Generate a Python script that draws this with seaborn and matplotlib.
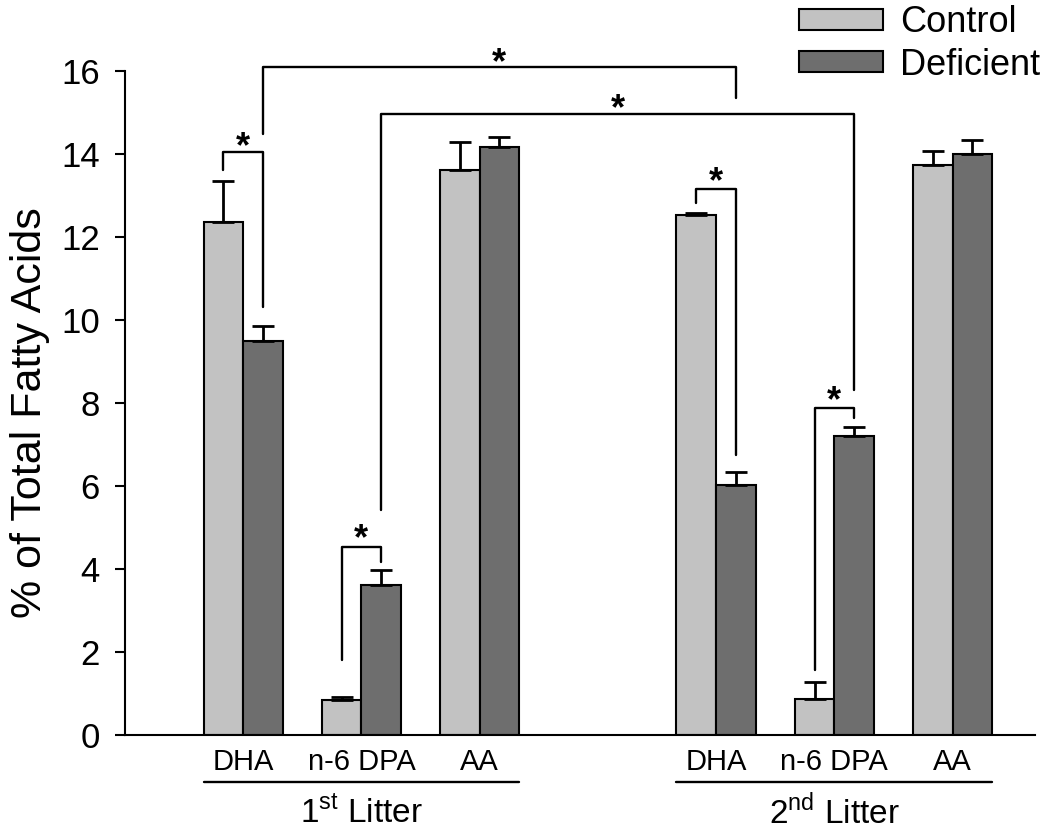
import numpy as np
import pandas as pd
import matplotlib
matplotlib.use('Agg')
import matplotlib.pyplot as plt
import matplotlib.transforms as mtransforms
import seaborn as sns

# data
fatty_acids = ['DHA', 'n-6 DPA', 'AA']
litters = ['1st', '2nd']
control_mean = [12.35, 0.85, 13.61, 12.52, 0.87, 13.72]
control_err = [1.0, 0.07, 0.67, 0.05, 0.41, 0.34]
deficient_mean = [9.48, 3.61, 14.17, 6.02, 7.2, 14.0]
deficient_err = [0.38, 0.37, 0.24, 0.32, 0.22, 0.34]

keys = [f'{fa}|{lt}' for lt in litters for fa in fatty_acids]
order = keys[:3] + ['gap'] + keys[3:]

df = pd.DataFrame({
    'key': keys * 2,
    'diet': ['Control'] * 6 + ['Deficient'] * 6,
    'value': control_mean + deficient_mean,
})

sns.set_style('ticks', {'axes.edgecolor': 'black', 'text.color': 'black',
                        'axes.labelcolor': 'black', 'xtick.color': 'black',
                        'ytick.color': 'black'})
plt.rcParams['font.family'] = ['Liberation Sans', 'DejaVu Sans']
plt.rcParams['mathtext.fontset'] = 'custom'
plt.rcParams['mathtext.rm'] = 'Liberation Sans'

fig, ax = plt.subplots(figsize=(10.5, 8.33), dpi=100)
fig.subplots_adjust(left=0.119, right=0.986, bottom=0.1176, top=0.915)

sns.barplot(data=df, x='key', y='value', hue='diet', order=order,
            hue_order=['Control', 'Deficient'],
            palette={'Control': '#c2c2c2', 'Deficient': '#6e6e6e'},
            width=0.67, saturation=1, edgecolor='black', linewidth=1.5,
            errorbar=None, legend=False, ax=ax)

# upward error bars
centers = []
for cont, err in zip(ax.containers, [control_err, deficient_err]):
    xs = [b.get_x() + b.get_width() / 2 for b in cont]
    hs = [b.get_height() for b in cont]
    centers.append(xs)
    ax.errorbar(xs, hs, yerr=[np.zeros(len(err)), err], fmt='none',
                ecolor='black', elinewidth=2, capsize=8, capthick=2, zorder=3)

# significance brackets: (group, hue) left, left leg bottom, (group, hue) right, right leg bottom, top, star y
brackets = [
    ((0, 0), 13.6, (0, 1), 10.3, 14.05, 14.42),
    ((0, 1), 14.48, (3, 1), 15.35, 16.1, 16.45),
    ((1, 0), 1.8, (1, 1), 4.17, 4.53, 4.98),
    ((1, 1), 5.42, (4, 1), 8.31, 14.96, 15.32),
    ((3, 0), 12.82, (3, 1), 6.75, 13.16, 13.58),
    ((4, 0), 1.57, (4, 1), 7.64, 7.88, 8.3),
]
star_fs = 26
for (gl, hl), yl, (gr, hr), yr, top, star_y in brackets:
    xl = centers[hl][gl]
    xr = centers[hr][gr]
    ax.plot([xl, xl, xr, xr], [yl, top, top, yr], color='black', lw=1.7,
            clip_on=False, zorder=4)
    ax.annotate('*', xy=((xl + xr) / 2, star_y), xytext=(0, -0.57 * star_fs),
                textcoords='offset points', ha='center', va='baseline',
                fontsize=star_fs, fontweight='bold', annotation_clip=False)

ax.set_ylim(0, 16)
ax.set_yticks(range(0, 17, 2))
ax.set_xlim(-1.0, 6.7)
ax.set_xticks(range(len(order)))
ax.set_xticklabels([k.split('|')[0] if k != 'gap' else '' for k in order])
ax.tick_params(axis='x', length=0, pad=9, labelsize=21)
ax.tick_params(axis='y', length=7, width=1.5, direction='out', pad=11, labelsize=25)
ax.set_xlabel('')
ax.set_ylabel('% of Total Fatty Acids', fontsize=31)
ax.yaxis.set_label_coords(-0.104, 0.486)
ax.yaxis.label.set_verticalalignment('center')
sns.despine(ax=ax)
ax.spines['left'].set_linewidth(1.5)
ax.spines['bottom'].set_linewidth(1.5)

# litter group lines and labels below the axis
trans = mtransforms.blended_transform_factory(ax.transData, ax.transAxes)
for i, lt in enumerate(litters):
    left_bar = ax.containers[0][i * 3]
    right_bar = ax.containers[1][i * 3 + 2]
    x0 = left_bar.get_x()
    x1 = right_bar.get_x() + right_bar.get_width()
    ax.plot([x0, x1], [-0.071, -0.071], color='black', lw=1.7,
            transform=trans, clip_on=False)
    num, suf = lt[0], lt[1:]
    ax.text((x0 + x1) / 2, -0.117, f'{num}$^{{\\rm {suf}}}$ Litter',
            transform=trans, ha='center', va='center', fontsize=24)

fig.legend(ax.containers, ['Control', 'Deficient'], loc='upper right',
           bbox_to_anchor=(1.004, 1.011), frameon=False, fontsize=26,
           handlelength=2.35, handleheight=0.5, labelspacing=0.2,
           handletextpad=0.45, borderaxespad=0)

fig.savefig('out.png', dpi=100)
